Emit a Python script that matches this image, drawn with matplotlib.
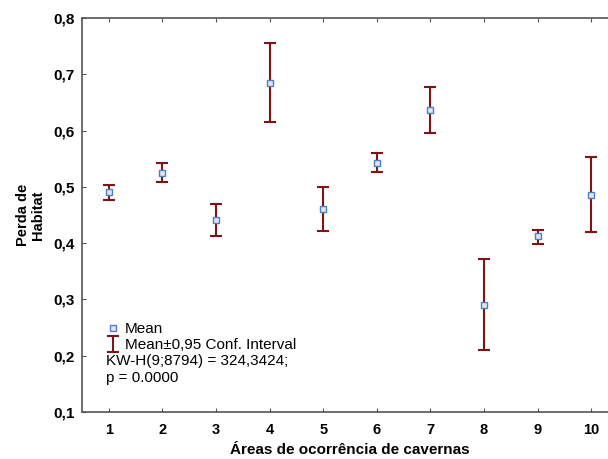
import matplotlib.pyplot as plt
from matplotlib.lines import Line2D

plt.rcParams['font.family'] = ['Liberation Sans', 'DejaVu Sans']

areas = [1, 2, 3, 4, 5, 6, 7, 8, 9, 10]
means = [0.490, 0.525, 0.441, 0.685, 0.460, 0.543, 0.637, 0.290, 0.412, 0.486]
upper = [0.503, 0.542, 0.469, 0.756, 0.500, 0.560, 0.677, 0.371, 0.424, 0.553]
lower = [0.477, 0.509, 0.412, 0.615, 0.422, 0.527, 0.596, 0.210, 0.399, 0.419]

err_lo = [m - l for m, l in zip(means, lower)]
err_hi = [u - m for m, u in zip(means, upper)]

red = '#7f1416'
blue = '#4f7fc0'

fig = plt.figure(figsize=(6.08, 4.59), dpi=100)
ax = fig.add_axes([0.1349, 0.1024, 0.8815, 0.8584])

eb = ax.errorbar(areas, means, yerr=[err_lo, err_hi], fmt='none', ecolor=red,
                 elinewidth=1.5, capsize=4, capthick=1.5, zorder=2)
ax.plot(areas, means, 's', ms=4.5, mfc='#dde6f2', mec=blue, mew=1.0,
        ls='none', zorder=3)

ax.set_xlim(0.5, 10.5)
ax.set_ylim(0.1, 0.8)
ax.set_xticks(areas)
ax.set_yticks([0.1, 0.2, 0.3, 0.4, 0.5, 0.6, 0.7, 0.8])
ax.set_yticklabels(['0,1', '0,2', '0,3', '0,4', '0,5', '0,6', '0,7', '0,8'])

for lab in ax.get_xticklabels() + ax.get_yticklabels():
    lab.set_fontweight('bold')
ax.tick_params(axis='both', direction='in', length=3, width=0.8,
               color='#555555', labelsize=10.5)
ax.tick_params(axis='y', labelsize=11, pad=5)
ax.tick_params(axis='x', top=True, pad=8)

for s in ax.spines.values():
    s.set_color('#555555')
    s.set_linewidth(1.2)

ax.set_xlabel('Áreas de ocorrência de cavernas', fontsize=11,
              fontweight='bold', labelpad=4)
ax.set_ylabel('Perda de\nHabitat', fontsize=10.5, fontweight='bold',
              labelpad=6, multialignment='center', linespacing=1.1)

h_mean = Line2D([], [], marker='s', ms=4.5, mfc='#dde6f2', mec=blue,
                mew=1.0, ls='none')
leg = ax.legend([h_mean, eb], ['Mean', 'Mean±0,95 Conf. Interval'],
                loc='upper left', bbox_to_anchor=(0.047, 0.228),
                frameon=False, fontsize=11, handlelength=0.8,
                handletextpad=0.35, borderpad=0, borderaxespad=0,
                labelspacing=0.15)

ax.text(0.045, 0.146, 'KW-H(9;8794) = 324,3424;\np = 0.0000',
        transform=ax.transAxes, fontsize=11, va='top', ha='left',
        linespacing=1.25)

fig.savefig('out.png', dpi=100)
